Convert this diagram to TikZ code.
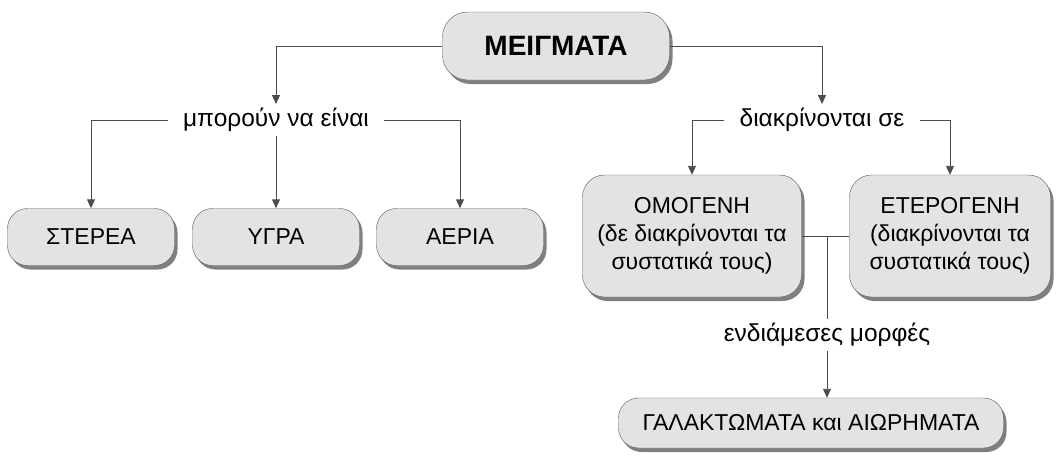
\documentclass[tikz,border=0pt]{standalone}
\usepackage{fontspec}
\setmainfont{Liberation Sans}
\usetikzlibrary{positioning,shadows,arrows.meta}

\begin{document}
\begin{tikzpicture}[x=1pt,y=-1pt,
  box/.style={draw=black!65,fill=black!11,rounded corners=20pt,align=center,
    font=\fontsize{23}{28}\selectfont,
    drop shadow={shadow xshift=3pt,shadow yshift=-4pt,fill=black!50,opacity=1}},
  lbl/.style={font=\fontsize{24.5}{28}\selectfont,inner xsep=15pt,inner ysep=4pt},
  link/.style={draw=black!70,line width=0.9pt},
  arr/.style={link,-{Triangle[length=9pt,width=8pt]}}]
  \useasboundingbox (0,0) rectangle (1056,463);

  \node[box,minimum width=227pt,minimum height=68pt,rounded corners=25pt,
    font=\fontsize{28}{32}\selectfont\bfseries] (mix) at (556,46) {ΜΕΙΓΜΑΤΑ};
  \node[lbl] (can) at (276,120) {μπορούν να είναι};
  \node[lbl] (dist) at (822,120) {διακρίνονται σε};

  \node[box,minimum width=167pt,minimum height=57pt] (solid) at (91,237) {ΣΤΕΡΕΑ};
  \node[box,minimum width=167pt,minimum height=57pt] (liquid) at (276,237) {ΥΓΡΑ};
  \node[box,minimum width=167pt,minimum height=57pt] (gas) at (460,237) {ΑΕΡΙΑ};

  \node[box,minimum width=219pt,minimum height=122pt,rounded corners=22pt] (homo) at (692,236)
    {ΟΜΟΓΕΝΗ\\(δε διακρίνονται τα\\συστατικά τους)};
  \node[box,minimum width=201pt,minimum height=122pt,rounded corners=22pt] (hetero) at (950,236)
    {ΕΤΕΡΟΓΕΝΗ\\(διακρίνονται τα\\συστατικά τους)};

  \node[lbl] (forms) at (827,335) {ενδιάμεσες μορφές};
  \node[box,minimum width=385pt,minimum height=50pt] (susp) at (811,423)
    {ΓΑΛΑΚΤΩΜΑΤΑ και ΑΙΩΡΗΜΑΤΑ};

  \draw[arr] (mix.west) -| (can.north);
  \draw[arr] (mix.east) -| (dist.north);
  \draw[arr] (can.west) -| (solid.north);
  \draw[arr] (can.south) -- (liquid.north);
  \draw[arr] (can.east) -| (gas.north);
  \draw[arr] (dist.west) -| (homo.north);
  \draw[arr] (dist.east) -| (hetero.north);
  \draw[link] (homo.east) -- (hetero.west);
  \coordinate (mid) at (forms.north |- homo.east);
  \draw[link] (mid) -- (forms.north);
  \draw[arr] (forms.south) -- (forms.south |- susp.north);
\end{tikzpicture}
\end{document}
